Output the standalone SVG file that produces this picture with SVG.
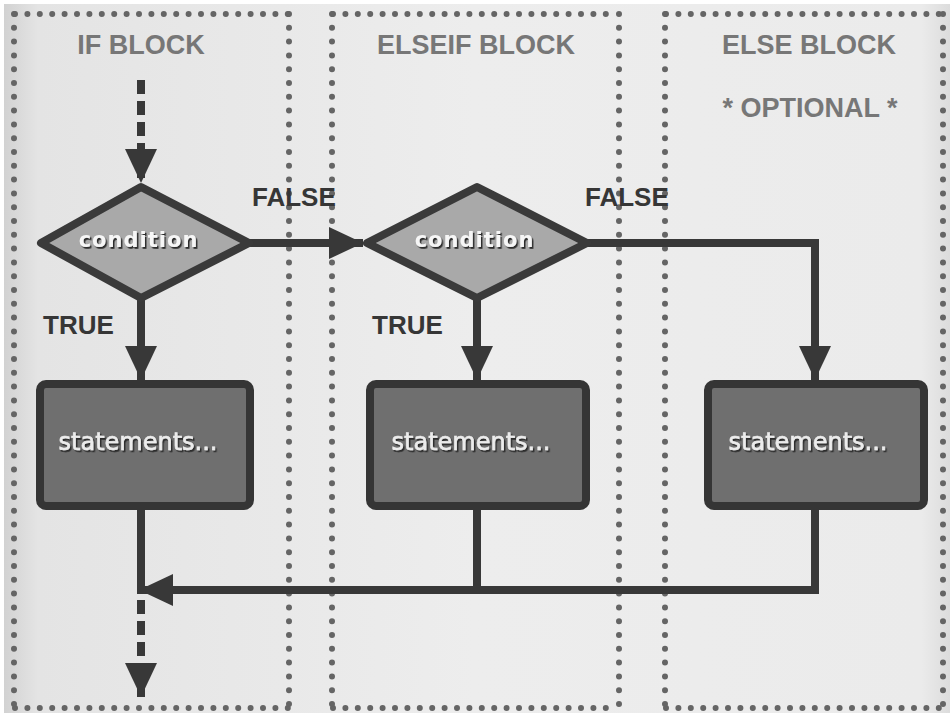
<svg xmlns="http://www.w3.org/2000/svg" width="950" height="713" viewBox="0 0 950 713">
  <defs>
    <linearGradient id="pageShade" x1="0" y1="0" x2="1" y2="0">
      <stop offset="0" stop-color="#d0d0d0"/>
      <stop offset="0.04" stop-color="#e4e4e4"/>
      <stop offset="0.5" stop-color="#ededed"/>
      <stop offset="0.97" stop-color="#ebebeb"/>
      <stop offset="1" stop-color="#dcdcdc"/>
    </linearGradient>
    <!-- dark drop shadow under light labels -->
    <filter id="textShadow" x="-10%" y="-30%" width="120%" height="160%">
      <feDropShadow dx="1.5" dy="1.8" stdDeviation="0.4" flood-color="#2a2a2a" flood-opacity="1"/>
    </filter>
    <marker id="arrow" viewBox="0 0 34 32" refX="34" refY="16" markerWidth="34" markerHeight="32" markerUnits="userSpaceOnUse" orient="auto">
      <path d="M0,0 L34,16 L0,32 Z" fill="#383838"/>
    </marker>
  </defs>
  <style>
    .frame { stroke: #656565; stroke-width: 6; stroke-linecap: round; fill: none; }
    .fh { stroke-dasharray: 0 12.4; }
    .fv { stroke-dasharray: 0 13.8; }
    .title { font-family: "Liberation Sans", Arial, sans-serif; font-weight: bold; font-size: 27px; fill: #777777; text-anchor: middle; }
    .label { font-family: "Liberation Sans", Arial, sans-serif; font-weight: bold; font-size: 26px; fill: #363636; }
    .decision { fill: #a9a9a9; stroke: #3a3a3a; stroke-width: 8; stroke-linejoin: round; }
    .process { fill: #6f6f6f; stroke: #353535; stroke-width: 8; }
    .cond { font-family: "DejaVu Sans", Verdana, sans-serif; font-weight: bold; font-size: 21px; letter-spacing: 1px; text-anchor: middle; fill: #f6f6f6; filter: url(#textShadow); }
    .stmt { font-family: "DejaVu Sans", Verdana, sans-serif; font-size: 24px; text-anchor: middle; fill: #ececec; stroke: #ececec; stroke-width: 0.6; filter: url(#textShadow); }
    .flow { stroke: #383838; stroke-width: 8; fill: none; }
    .dash { stroke-dasharray: 14 7; }
  </style>

  <!-- page -->
  <rect x="0" y="0" width="950" height="713" fill="url(#pageShade)"/>
  <rect x="0" y="0" width="950" height="4" fill="#ffffff"/>
  <rect x="0" y="0" width="4" height="713" fill="#ffffff"/>

  <!-- dotted block frames -->
  <g id="frames">
    <line class="frame fh" x1="15" y1="14" x2="288" y2="14"/>
    <line class="frame fh" x1="15" y1="708" x2="288" y2="708"/>
    <line class="frame fv" x1="14" y1="14" x2="14" y2="708"/>
    <line class="frame fv" x1="289" y1="14" x2="289" y2="708"/>

    <line class="frame fh" x1="333" y1="14" x2="618" y2="14"/>
    <line class="frame fh" x1="333" y1="708" x2="618" y2="708"/>
    <line class="frame fv" x1="332" y1="14" x2="332" y2="708"/>
    <line class="frame fv" x1="619" y1="14" x2="619" y2="708"/>

    <line class="frame fh" x1="666" y1="14" x2="942" y2="14"/>
    <line class="frame fh" x1="666" y1="708" x2="942" y2="708"/>
    <line class="frame fv" x1="665" y1="14" x2="665" y2="708"/>
    <line class="frame fv" x1="943" y1="14" x2="943" y2="708"/>
  </g>

  <!-- block headings -->
  <g id="headings">
    <text class="title" x="141" y="54">IF BLOCK</text>
    <text class="title" x="476" y="54">ELSEIF BLOCK</text>
    <text class="title" x="809" y="54">ELSE BLOCK</text>
    <text class="title" x="810" y="117">* OPTIONAL *</text>
  </g>

  <!-- connectors -->
  <g id="connectors">
    <line class="flow dash" x1="141" y1="80" x2="141" y2="183" marker-end="url(#arrow)"/>
    <line class="flow" x1="249" y1="243" x2="363" y2="243" marker-end="url(#arrow)"/>
    <polyline class="flow" points="587,243 815,243 815,380" marker-end="url(#arrow)"/>
    <line class="flow" x1="141" y1="298" x2="141" y2="380" marker-end="url(#arrow)"/>
    <line class="flow" x1="477" y1="298" x2="477" y2="380" marker-end="url(#arrow)"/>
    <line class="flow" x1="477" y1="508" x2="477" y2="590"/>
    <polyline class="flow" points="815,508 815,590 139,590" marker-end="url(#arrow)"/>
    <line class="flow" x1="141" y1="508" x2="141" y2="594"/>
    <line class="flow dash" x1="141" y1="600" x2="141" y2="697" marker-end="url(#arrow)"/>
    <text class="label" x="252" y="206">FALSE</text>
    <text class="label" x="585" y="206">FALSE</text>
    <text class="label" x="43" y="334">TRUE</text>
    <text class="label" x="372" y="334">TRUE</text>
  </g>

  <!-- if condition -->
  <g id="if-condition">
    <polygon class="decision" points="141,187 249,243 141,298 41,243"/>
    <text class="cond" x="138.5" y="246.5">condition</text>
  </g>

  <!-- elseif condition -->
  <g id="elseif-condition">
    <polygon class="decision" points="477,187 587,243 477,298 367,243"/>
    <text class="cond" x="474.5" y="246.5">condition</text>
  </g>

  <!-- statement blocks -->
  <g id="if-statements">
    <rect class="process" x="40" y="384" width="210" height="122" rx="6"/>
    <text class="stmt" x="138" y="450">statements...</text>
  </g>
  <g id="elseif-statements">
    <rect class="process" x="370" y="384" width="216" height="122" rx="6"/>
    <text class="stmt" x="471" y="450">statements...</text>
  </g>
  <g id="else-statements">
    <rect class="process" x="708" y="384" width="216" height="122" rx="6"/>
    <text class="stmt" x="808" y="450">statements...</text>
  </g>
</svg>
